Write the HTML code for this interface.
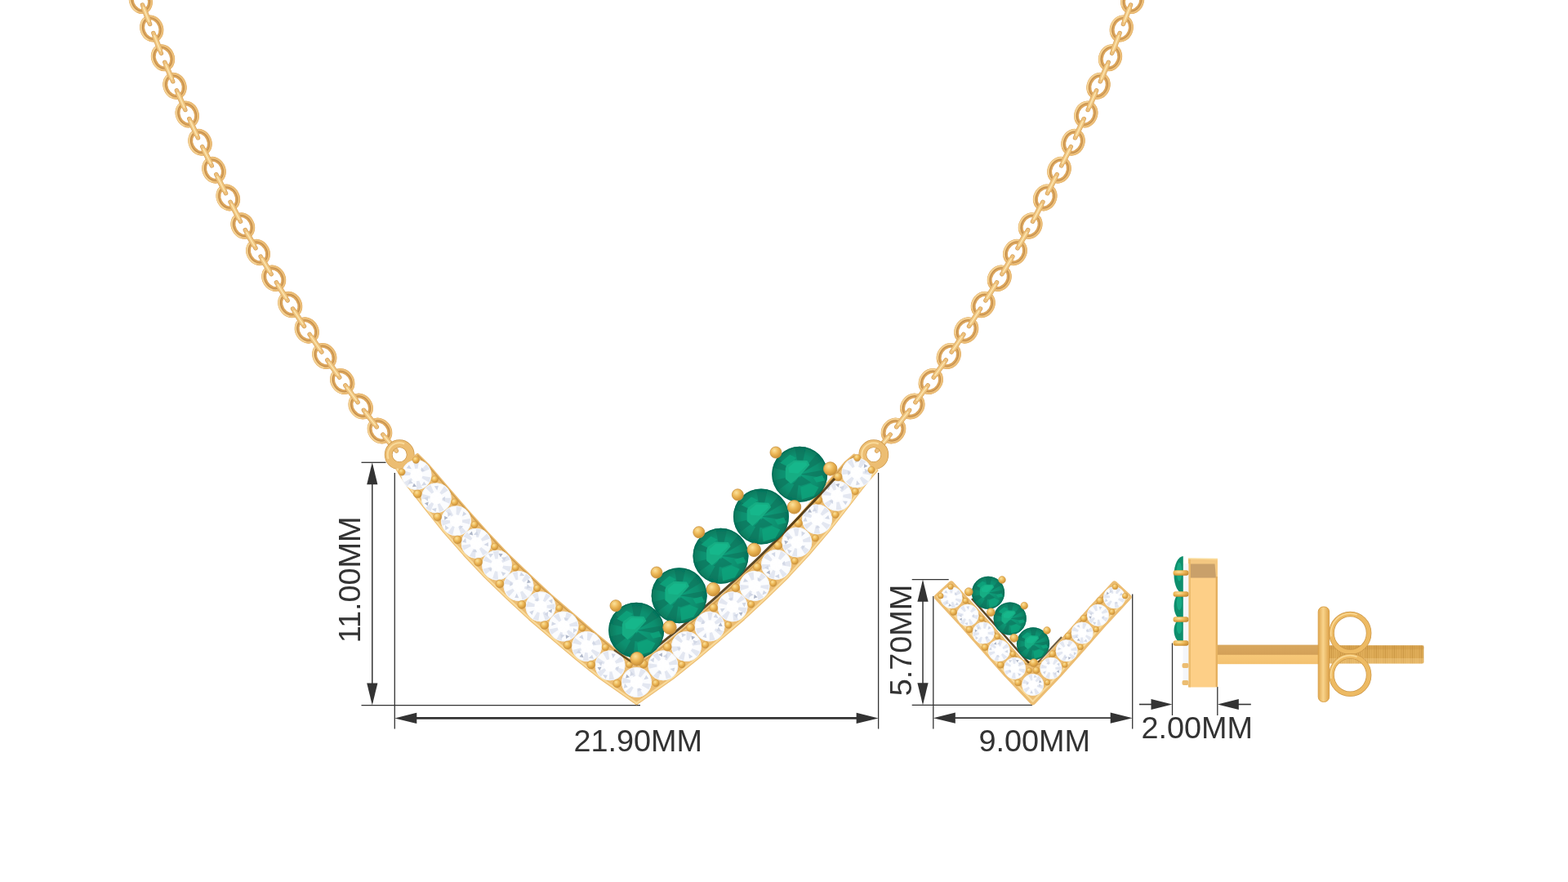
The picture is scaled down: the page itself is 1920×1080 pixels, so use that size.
<!DOCTYPE html>
<html lang="en">
<head>
<meta charset="utf-8">
<title>Emerald and Diamond V Necklace and Earring Set - Dimensions</title>
<style>
html,body{margin:0;padding:0;background:#fff;}
body{width:1920px;height:1080px;overflow:hidden;font-family:"Liberation Sans",Arial,sans-serif;}
svg{display:block;}
</style>
</head>
<body>
<svg width="1920" height="1080" viewBox="0 0 1920 1080">
<defs>
<radialGradient id="pg" cx="38%" cy="32%" r="75%">
 <stop offset="0" stop-color="#FBE29C"/><stop offset=".45" stop-color="#EDB858"/><stop offset="1" stop-color="#C4882F"/>
</radialGradient>
<radialGradient id="eg" cx="50%" cy="50%" r="50%">
 <stop offset="0" stop-color="#10A07B"/><stop offset=".7" stop-color="#0B8E6E"/><stop offset="1" stop-color="#07785C"/>
</radialGradient>
<linearGradient id="postg" x1="0" y1="0" x2="0" y2="1">
 <stop offset="0" stop-color="#D9A85E"/><stop offset=".5" stop-color="#D3A058"/><stop offset=".52" stop-color="#F7C878"/><stop offset="1" stop-color="#F3C170"/>
</linearGradient>
<linearGradient id="plateg" x1="0" y1="0" x2="1" y2="0">
 <stop offset="0" stop-color="#E0A84F"/><stop offset=".45" stop-color="#F9D48C"/><stop offset="1" stop-color="#DDA248"/>
</linearGradient>
<pattern id="thread" width="2.2" height="24" patternUnits="userSpaceOnUse">
 <rect width="2.2" height="24" fill="#E9B862"/><rect width="0.9" height="24" fill="#C58F3D"/>
</pattern>
<filter id="soft" filterUnits="userSpaceOnUse" x="0" y="0" width="1920" height="1080"><feGaussianBlur stdDeviation="0.45"/></filter>
<g id="dia">
 <circle r="18" fill="#FBFCFE"/>
 <g fill="#E3E7F1">
  <path d="M0 0 L-4 -17 L3 -16.5Z"/><path d="M0 0 L12 -13 L16 -7Z"/><path d="M0 0 L17 3 L15 9Z"/>
  <path d="M0 0 L7 16 L0 17.5Z"/><path d="M0 0 L-11 14 L-15 9Z"/><path d="M0 0 L-17.5 1 L-16.5 -6Z"/>
 </g>
 <g fill="#D2D8E6">
  <path d="M-9 -12 L-6 -7 L-12 -8Z"/><path d="M9 8 L12 12 L6 13Z"/><path d="M6 -9 L10 -5 L5 -4Z"/><path d="M-8 6 L-4 10 L-10 11Z"/>
 </g>
 <path d="M-3 10 L0 14 L-5 14.5Z" fill="#AEB6C8"/>
 <circle r="7.5" fill="#FFFFFF" opacity=".95"/>
 <circle r="17.6" fill="none" stroke="#EEF1F7" stroke-width=".8"/>
</g>
<g id="em">
 <circle r="34" fill="url(#eg)"/>
 <g fill="#06705A" opacity=".55">
  <path d="M0 0 L-6 -33 L8 -33Z"/><path d="M0 0 L22 -26 L29 -17Z"/><path d="M0 0 L33 -6 L33 5Z"/>
  <path d="M0 0 L-4 33 L-16 29Z"/><path d="M0 0 L-27 20 L-33 8Z"/><path d="M0 0 L-33 -8 L-27 -20Z"/>
  <path d="M2 2 L14 10 L2 14 L-9 12Z"/>
 </g>
 <g fill="#12A47C" opacity=".85">
  <path d="M1.1 15.9 L13 11.5 L23.3 15.9 L17.4 26.3 L2.6 30.7Z"/>
  <path d="M16.7 4.1 L27.8 1.1 L30.7 7.8 L20.4 10Z"/>
  <path d="M-24 -14 L-12 -24 L-4 -20 L-16 -10Z"/>
 </g>
 <path d="M-17.4 -7 L-16 -11 L-7 -17.4 L9.3 -16.7 L12.2 -11.5 L1.1 1.1 L-10.7 11.5 L-17.4 5.6Z" fill="#14AD83"/>
 <path d="M-14 -8 L-6 -15 L8 -14.5 L9 -11 L-2 -1 L-13 -2Z" fill="#1BBB8E" opacity=".75"/>
 <circle r="33.3" fill="none" stroke="#076A54" stroke-width="1.4" opacity=".75"/>
</g>
</defs>
<rect width="1920" height="1080" fill="#FFFFFF"/>

<g id="dims-necklace">
<line x1="442.5" y1="566.3" x2="472.5" y2="566.3" stroke="#333333" stroke-width="1.3"/>
<line x1="442.5" y1="863.6" x2="784" y2="863.6" stroke="#333333" stroke-width="1.3"/>
<line x1="455.8" y1="570" x2="455.8" y2="860" stroke="#333333" stroke-width="1.5"/>
<polygon points="455.8,566.3 462.4,593.3 449.2,593.3" fill="#333333"/>
<polygon points="455.8,863.6 449.2,836.6 462.4,836.6" fill="#333333"/>
<line x1="483.3" y1="579" x2="483.3" y2="892.5" stroke="#333333" stroke-width="1.3"/>
<line x1="1075.6" y1="579" x2="1075.6" y2="892.5" stroke="#333333" stroke-width="1.3"/>
<line x1="490" y1="879.4" x2="1069" y2="879.4" stroke="#333333" stroke-width="2.8"/>
<polygon points="483.3,879.4 510.3,872.8 510.3,886" fill="#333333"/>
<polygon points="1075.6,879.4 1048.6,886 1048.6,872.8" fill="#333333"/>
<text x="441.5" y="787.2" font-family="'Liberation Sans', Arial, sans-serif" font-size="37.8" fill="#333333" text-anchor="start" transform="rotate(-90 441.5 787.2)">11.00MM</text>
<text x="702.5" y="920.3" font-family="'Liberation Sans', Arial, sans-serif" font-size="37.8" fill="#333333" text-anchor="start">21.90MM</text>
</g>
<g id="jewel-necklace" filter="url(#soft)">
<g id="chain-left">
<g transform="translate(158.85 -34) rotate(68.7)"><ellipse rx="13.9" ry="11.3" fill="none" stroke="#DCA65D" stroke-width="5.9"/><ellipse rx="15.3" ry="12.7" fill="none" stroke="#ECBE78" stroke-width="2.6"/><ellipse rx="13.5" ry="10.9" fill="none" stroke="#B98547" stroke-width="1" opacity=".8"/><ellipse rx="15.6" ry="13" fill="none" stroke="#F8DDA4" stroke-width="1.1" stroke-dasharray="34 56" stroke-dashoffset="-10" opacity=".9"/></g>
<g transform="translate(172.3 0.5) rotate(68.7)"><ellipse rx="13.9" ry="11.3" fill="none" stroke="#DCA65D" stroke-width="5.9"/><ellipse rx="15.3" ry="12.7" fill="none" stroke="#ECBE78" stroke-width="2.6"/><ellipse rx="13.5" ry="10.9" fill="none" stroke="#B98547" stroke-width="1" opacity=".8"/><ellipse rx="15.6" ry="13" fill="none" stroke="#F8DDA4" stroke-width="1.1" stroke-dasharray="34 56" stroke-dashoffset="-10" opacity=".9"/></g>
<g transform="translate(185.75 35) rotate(68.83)"><ellipse rx="13.9" ry="11.3" fill="none" stroke="#DCA65D" stroke-width="5.9"/><ellipse rx="15.3" ry="12.7" fill="none" stroke="#ECBE78" stroke-width="2.6"/><ellipse rx="13.5" ry="10.9" fill="none" stroke="#B98547" stroke-width="1" opacity=".8"/><ellipse rx="15.6" ry="13" fill="none" stroke="#F8DDA4" stroke-width="1.1" stroke-dasharray="34 56" stroke-dashoffset="-10" opacity=".9"/></g>
<g transform="translate(199.5 70.75) rotate(68.11)"><ellipse rx="13.9" ry="11.3" fill="none" stroke="#DCA65D" stroke-width="5.9"/><ellipse rx="15.3" ry="12.7" fill="none" stroke="#ECBE78" stroke-width="2.6"/><ellipse rx="13.5" ry="10.9" fill="none" stroke="#B98547" stroke-width="1" opacity=".8"/><ellipse rx="15.6" ry="13" fill="none" stroke="#F8DDA4" stroke-width="1.1" stroke-dasharray="34 56" stroke-dashoffset="-10" opacity=".9"/></g>
<g transform="translate(214 105.3) rotate(66.75)"><ellipse rx="13.9" ry="11.3" fill="none" stroke="#DCA65D" stroke-width="5.9"/><ellipse rx="15.3" ry="12.7" fill="none" stroke="#ECBE78" stroke-width="2.6"/><ellipse rx="13.5" ry="10.9" fill="none" stroke="#B98547" stroke-width="1" opacity=".8"/><ellipse rx="15.6" ry="13" fill="none" stroke="#F8DDA4" stroke-width="1.1" stroke-dasharray="34 56" stroke-dashoffset="-10" opacity=".9"/></g>
<g transform="translate(229.25 140) rotate(65.79)"><ellipse rx="13.9" ry="11.3" fill="none" stroke="#DCA65D" stroke-width="5.9"/><ellipse rx="15.3" ry="12.7" fill="none" stroke="#ECBE78" stroke-width="2.6"/><ellipse rx="13.5" ry="10.9" fill="none" stroke="#B98547" stroke-width="1" opacity=".8"/><ellipse rx="15.6" ry="13" fill="none" stroke="#F8DDA4" stroke-width="1.1" stroke-dasharray="34 56" stroke-dashoffset="-10" opacity=".9"/></g>
<g transform="translate(245 174.25) rotate(64.37)"><ellipse rx="13.9" ry="11.3" fill="none" stroke="#DCA65D" stroke-width="5.9"/><ellipse rx="15.3" ry="12.7" fill="none" stroke="#ECBE78" stroke-width="2.6"/><ellipse rx="13.5" ry="10.9" fill="none" stroke="#B98547" stroke-width="1" opacity=".8"/><ellipse rx="15.6" ry="13" fill="none" stroke="#F8DDA4" stroke-width="1.1" stroke-dasharray="34 56" stroke-dashoffset="-10" opacity=".9"/></g>
<g transform="translate(262 208.25) rotate(63.18)"><ellipse rx="13.9" ry="11.3" fill="none" stroke="#DCA65D" stroke-width="5.9"/><ellipse rx="15.3" ry="12.7" fill="none" stroke="#ECBE78" stroke-width="2.6"/><ellipse rx="13.5" ry="10.9" fill="none" stroke="#B98547" stroke-width="1" opacity=".8"/><ellipse rx="15.6" ry="13" fill="none" stroke="#F8DDA4" stroke-width="1.1" stroke-dasharray="34 56" stroke-dashoffset="-10" opacity=".9"/></g>
<g transform="translate(279.25 242) rotate(62.65)"><ellipse rx="13.9" ry="11.3" fill="none" stroke="#DCA65D" stroke-width="5.9"/><ellipse rx="15.3" ry="12.7" fill="none" stroke="#ECBE78" stroke-width="2.6"/><ellipse rx="13.5" ry="10.9" fill="none" stroke="#B98547" stroke-width="1" opacity=".8"/><ellipse rx="15.6" ry="13" fill="none" stroke="#F8DDA4" stroke-width="1.1" stroke-dasharray="34 56" stroke-dashoffset="-10" opacity=".9"/></g>
<g transform="translate(297.3 276.5) rotate(61.25)"><ellipse rx="13.9" ry="11.3" fill="none" stroke="#DCA65D" stroke-width="5.9"/><ellipse rx="15.3" ry="12.7" fill="none" stroke="#ECBE78" stroke-width="2.6"/><ellipse rx="13.5" ry="10.9" fill="none" stroke="#B98547" stroke-width="1" opacity=".8"/><ellipse rx="15.6" ry="13" fill="none" stroke="#F8DDA4" stroke-width="1.1" stroke-dasharray="34 56" stroke-dashoffset="-10" opacity=".9"/></g>
<g transform="translate(316 309) rotate(59.43)"><ellipse rx="13.9" ry="11.3" fill="none" stroke="#DCA65D" stroke-width="5.9"/><ellipse rx="15.3" ry="12.7" fill="none" stroke="#ECBE78" stroke-width="2.6"/><ellipse rx="13.5" ry="10.9" fill="none" stroke="#B98547" stroke-width="1" opacity=".8"/><ellipse rx="15.6" ry="13" fill="none" stroke="#F8DDA4" stroke-width="1.1" stroke-dasharray="34 56" stroke-dashoffset="-10" opacity=".9"/></g>
<g transform="translate(335.25 340.75) rotate(58.48)"><ellipse rx="13.9" ry="11.3" fill="none" stroke="#DCA65D" stroke-width="5.9"/><ellipse rx="15.3" ry="12.7" fill="none" stroke="#ECBE78" stroke-width="2.6"/><ellipse rx="13.5" ry="10.9" fill="none" stroke="#B98547" stroke-width="1" opacity=".8"/><ellipse rx="15.6" ry="13" fill="none" stroke="#F8DDA4" stroke-width="1.1" stroke-dasharray="34 56" stroke-dashoffset="-10" opacity=".9"/></g>
<g transform="translate(355.25 373) rotate(57.57)"><ellipse rx="13.9" ry="11.3" fill="none" stroke="#DCA65D" stroke-width="5.9"/><ellipse rx="15.3" ry="12.7" fill="none" stroke="#ECBE78" stroke-width="2.6"/><ellipse rx="13.5" ry="10.9" fill="none" stroke="#B98547" stroke-width="1" opacity=".8"/><ellipse rx="15.6" ry="13" fill="none" stroke="#F8DDA4" stroke-width="1.1" stroke-dasharray="34 56" stroke-dashoffset="-10" opacity=".9"/></g>
<g transform="translate(375.75 404.5) rotate(56.31)"><ellipse rx="13.9" ry="11.3" fill="none" stroke="#DCA65D" stroke-width="5.9"/><ellipse rx="15.3" ry="12.7" fill="none" stroke="#ECBE78" stroke-width="2.6"/><ellipse rx="13.5" ry="10.9" fill="none" stroke="#B98547" stroke-width="1" opacity=".8"/><ellipse rx="15.6" ry="13" fill="none" stroke="#F8DDA4" stroke-width="1.1" stroke-dasharray="34 56" stroke-dashoffset="-10" opacity=".9"/></g>
<g transform="translate(397.25 436) rotate(55.16)"><ellipse rx="13.9" ry="11.3" fill="none" stroke="#DCA65D" stroke-width="5.9"/><ellipse rx="15.3" ry="12.7" fill="none" stroke="#ECBE78" stroke-width="2.6"/><ellipse rx="13.5" ry="10.9" fill="none" stroke="#B98547" stroke-width="1" opacity=".8"/><ellipse rx="15.6" ry="13" fill="none" stroke="#F8DDA4" stroke-width="1.1" stroke-dasharray="34 56" stroke-dashoffset="-10" opacity=".9"/></g>
<g transform="translate(419.25 467) rotate(54.14)"><ellipse rx="13.9" ry="11.3" fill="none" stroke="#DCA65D" stroke-width="5.9"/><ellipse rx="15.3" ry="12.7" fill="none" stroke="#ECBE78" stroke-width="2.6"/><ellipse rx="13.5" ry="10.9" fill="none" stroke="#B98547" stroke-width="1" opacity=".8"/><ellipse rx="15.6" ry="13" fill="none" stroke="#F8DDA4" stroke-width="1.1" stroke-dasharray="34 56" stroke-dashoffset="-10" opacity=".9"/></g>
<g transform="translate(441.7 497.5) rotate(52.9)"><ellipse rx="13.9" ry="11.3" fill="none" stroke="#DCA65D" stroke-width="5.9"/><ellipse rx="15.3" ry="12.7" fill="none" stroke="#ECBE78" stroke-width="2.6"/><ellipse rx="13.5" ry="10.9" fill="none" stroke="#B98547" stroke-width="1" opacity=".8"/><ellipse rx="15.6" ry="13" fill="none" stroke="#F8DDA4" stroke-width="1.1" stroke-dasharray="34 56" stroke-dashoffset="-10" opacity=".9"/></g>
<g transform="translate(465 527.5) rotate(51.26)"><ellipse rx="13.9" ry="11.3" fill="none" stroke="#DCA65D" stroke-width="5.9"/><ellipse rx="15.3" ry="12.7" fill="none" stroke="#ECBE78" stroke-width="2.6"/><ellipse rx="13.5" ry="10.9" fill="none" stroke="#B98547" stroke-width="1" opacity=".8"/><ellipse rx="15.6" ry="13" fill="none" stroke="#F8DDA4" stroke-width="1.1" stroke-dasharray="34 56" stroke-dashoffset="-10" opacity=".9"/></g>
<line x1="161.03" y1="-28.41" x2="170.12" y2="-5.09" stroke="#D5A05A" stroke-width="5.4" stroke-linecap="round"/>
<line x1="162.89" y1="-23.65" x2="168.27" y2="-9.85" stroke="#DBA860" stroke-width="6.6" stroke-linecap="round"/>
<line x1="161.03" y1="-28.41" x2="170.12" y2="-5.09" stroke="#EEC17C" stroke-width="4" stroke-linecap="round"/>
<line x1="162.89" y1="-23.65" x2="168.27" y2="-9.85" stroke="#F0C682" stroke-width="5" stroke-linecap="round"/>
<line x1="162.12" y1="-25.61" x2="169.03" y2="-7.89" stroke="#FCE5AE" stroke-width="1.5" stroke-linecap="round"/>
<line x1="174.48" y1="6.09" x2="183.57" y2="29.41" stroke="#D5A05A" stroke-width="5.4" stroke-linecap="round"/>
<line x1="176.34" y1="10.85" x2="181.72" y2="24.65" stroke="#DBA860" stroke-width="6.6" stroke-linecap="round"/>
<line x1="174.48" y1="6.09" x2="183.57" y2="29.41" stroke="#EEC17C" stroke-width="4" stroke-linecap="round"/>
<line x1="176.34" y1="10.85" x2="181.72" y2="24.65" stroke="#F0C682" stroke-width="5" stroke-linecap="round"/>
<line x1="175.57" y1="8.89" x2="182.48" y2="26.61" stroke="#FCE5AE" stroke-width="1.5" stroke-linecap="round"/>
<line x1="187.9" y1="40.6" x2="197.35" y2="65.15" stroke="#D5A05A" stroke-width="5.4" stroke-linecap="round"/>
<line x1="189.88" y1="45.73" x2="195.38" y2="60.02" stroke="#DBA860" stroke-width="6.6" stroke-linecap="round"/>
<line x1="187.9" y1="40.6" x2="197.35" y2="65.15" stroke="#EEC17C" stroke-width="4" stroke-linecap="round"/>
<line x1="189.88" y1="45.73" x2="195.38" y2="60.02" stroke="#F0C682" stroke-width="5" stroke-linecap="round"/>
<line x1="188.98" y1="43.4" x2="196.27" y2="62.35" stroke="#FCE5AE" stroke-width="1.5" stroke-linecap="round"/>
<line x1="201.82" y1="76.28" x2="211.68" y2="99.77" stroke="#D5A05A" stroke-width="5.4" stroke-linecap="round"/>
<line x1="203.85" y1="81.11" x2="209.65" y2="94.94" stroke="#DBA860" stroke-width="6.6" stroke-linecap="round"/>
<line x1="201.82" y1="76.28" x2="211.68" y2="99.77" stroke="#EEC17C" stroke-width="4" stroke-linecap="round"/>
<line x1="203.85" y1="81.11" x2="209.65" y2="94.94" stroke="#F0C682" stroke-width="5" stroke-linecap="round"/>
<line x1="202.98" y1="79.05" x2="210.52" y2="97" stroke="#FCE5AE" stroke-width="1.5" stroke-linecap="round"/>
<line x1="216.41" y1="110.79" x2="226.84" y2="134.51" stroke="#D5A05A" stroke-width="5.4" stroke-linecap="round"/>
<line x1="218.57" y1="115.71" x2="224.68" y2="129.59" stroke="#DBA860" stroke-width="6.6" stroke-linecap="round"/>
<line x1="216.41" y1="110.79" x2="226.84" y2="134.51" stroke="#EEC17C" stroke-width="4" stroke-linecap="round"/>
<line x1="218.57" y1="115.71" x2="224.68" y2="129.59" stroke="#F0C682" stroke-width="5" stroke-linecap="round"/>
<line x1="217.62" y1="113.54" x2="225.63" y2="131.76" stroke="#FCE5AE" stroke-width="1.5" stroke-linecap="round"/>
<line x1="231.76" y1="145.45" x2="242.49" y2="168.8" stroke="#D5A05A" stroke-width="5.4" stroke-linecap="round"/>
<line x1="233.97" y1="150.28" x2="240.28" y2="163.97" stroke="#DBA860" stroke-width="6.6" stroke-linecap="round"/>
<line x1="231.76" y1="145.45" x2="242.49" y2="168.8" stroke="#EEC17C" stroke-width="4" stroke-linecap="round"/>
<line x1="233.97" y1="150.28" x2="240.28" y2="163.97" stroke="#F0C682" stroke-width="5" stroke-linecap="round"/>
<line x1="233.01" y1="148.18" x2="241.24" y2="166.07" stroke="#FCE5AE" stroke-width="1.5" stroke-linecap="round"/>
<line x1="247.68" y1="179.62" x2="259.32" y2="202.88" stroke="#D5A05A" stroke-width="5.4" stroke-linecap="round"/>
<line x1="250.1" y1="184.45" x2="256.9" y2="198.05" stroke="#DBA860" stroke-width="6.6" stroke-linecap="round"/>
<line x1="247.68" y1="179.62" x2="259.32" y2="202.88" stroke="#EEC17C" stroke-width="4" stroke-linecap="round"/>
<line x1="250.1" y1="184.45" x2="256.9" y2="198.05" stroke="#F0C682" stroke-width="5" stroke-linecap="round"/>
<line x1="249.02" y1="182.3" x2="257.98" y2="200.2" stroke="#FCE5AE" stroke-width="1.5" stroke-linecap="round"/>
<line x1="264.73" y1="213.59" x2="276.52" y2="236.66" stroke="#D5A05A" stroke-width="5.4" stroke-linecap="round"/>
<line x1="267.18" y1="218.38" x2="274.07" y2="231.88" stroke="#DBA860" stroke-width="6.6" stroke-linecap="round"/>
<line x1="264.73" y1="213.59" x2="276.52" y2="236.66" stroke="#EEC17C" stroke-width="4" stroke-linecap="round"/>
<line x1="267.18" y1="218.38" x2="274.07" y2="231.88" stroke="#F0C682" stroke-width="5" stroke-linecap="round"/>
<line x1="266.1" y1="216.26" x2="275.15" y2="233.99" stroke="#FCE5AE" stroke-width="1.5" stroke-linecap="round"/>
<line x1="282.03" y1="247.32" x2="294.52" y2="271.18" stroke="#D5A05A" stroke-width="5.4" stroke-linecap="round"/>
<line x1="284.67" y1="252.35" x2="291.88" y2="266.15" stroke="#DBA860" stroke-width="6.6" stroke-linecap="round"/>
<line x1="282.03" y1="247.32" x2="294.52" y2="271.18" stroke="#EEC17C" stroke-width="4" stroke-linecap="round"/>
<line x1="284.67" y1="252.35" x2="291.88" y2="266.15" stroke="#F0C682" stroke-width="5" stroke-linecap="round"/>
<line x1="283.42" y1="249.97" x2="293.13" y2="268.53" stroke="#FCE5AE" stroke-width="1.5" stroke-linecap="round"/>
<line x1="300.29" y1="281.7" x2="313.01" y2="303.8" stroke="#D5A05A" stroke-width="5.4" stroke-linecap="round"/>
<line x1="302.91" y1="286.25" x2="310.39" y2="299.25" stroke="#DBA860" stroke-width="6.6" stroke-linecap="round"/>
<line x1="300.29" y1="281.7" x2="313.01" y2="303.8" stroke="#EEC17C" stroke-width="4" stroke-linecap="round"/>
<line x1="302.91" y1="286.25" x2="310.39" y2="299.25" stroke="#F0C682" stroke-width="5" stroke-linecap="round"/>
<line x1="301.79" y1="284.3" x2="311.51" y2="301.2" stroke="#FCE5AE" stroke-width="1.5" stroke-linecap="round"/>
<line x1="319.11" y1="314.13" x2="332.14" y2="335.62" stroke="#D5A05A" stroke-width="5.4" stroke-linecap="round"/>
<line x1="321.77" y1="318.52" x2="329.48" y2="331.23" stroke="#DBA860" stroke-width="6.6" stroke-linecap="round"/>
<line x1="319.11" y1="314.13" x2="332.14" y2="335.62" stroke="#EEC17C" stroke-width="4" stroke-linecap="round"/>
<line x1="321.77" y1="318.52" x2="329.48" y2="331.23" stroke="#F0C682" stroke-width="5" stroke-linecap="round"/>
<line x1="320.67" y1="316.7" x2="330.58" y2="333.05" stroke="#FCE5AE" stroke-width="1.5" stroke-linecap="round"/>
<line x1="338.41" y1="345.85" x2="352.09" y2="367.9" stroke="#D5A05A" stroke-width="5.4" stroke-linecap="round"/>
<line x1="341.25" y1="350.43" x2="349.25" y2="363.32" stroke="#DBA860" stroke-width="6.6" stroke-linecap="round"/>
<line x1="338.41" y1="345.85" x2="352.09" y2="367.9" stroke="#EEC17C" stroke-width="4" stroke-linecap="round"/>
<line x1="341.25" y1="350.43" x2="349.25" y2="363.32" stroke="#F0C682" stroke-width="5" stroke-linecap="round"/>
<line x1="339.99" y1="348.4" x2="350.51" y2="365.35" stroke="#FCE5AE" stroke-width="1.5" stroke-linecap="round"/>
<line x1="358.52" y1="378.03" x2="372.48" y2="399.47" stroke="#D5A05A" stroke-width="5.4" stroke-linecap="round"/>
<line x1="361.4" y1="382.45" x2="369.6" y2="395.05" stroke="#DBA860" stroke-width="6.6" stroke-linecap="round"/>
<line x1="358.52" y1="378.03" x2="372.48" y2="399.47" stroke="#EEC17C" stroke-width="4" stroke-linecap="round"/>
<line x1="361.4" y1="382.45" x2="369.6" y2="395.05" stroke="#F0C682" stroke-width="5" stroke-linecap="round"/>
<line x1="360.16" y1="380.54" x2="370.84" y2="396.96" stroke="#FCE5AE" stroke-width="1.5" stroke-linecap="round"/>
<line x1="379.13" y1="409.46" x2="393.87" y2="431.04" stroke="#D5A05A" stroke-width="5.4" stroke-linecap="round"/>
<line x1="382.2" y1="413.95" x2="390.8" y2="426.55" stroke="#DBA860" stroke-width="6.6" stroke-linecap="round"/>
<line x1="379.13" y1="409.46" x2="393.87" y2="431.04" stroke="#EEC17C" stroke-width="4" stroke-linecap="round"/>
<line x1="382.2" y1="413.95" x2="390.8" y2="426.55" stroke="#F0C682" stroke-width="5" stroke-linecap="round"/>
<line x1="380.82" y1="411.93" x2="392.18" y2="428.57" stroke="#FCE5AE" stroke-width="1.5" stroke-linecap="round"/>
<line x1="400.72" y1="440.89" x2="415.78" y2="462.11" stroke="#D5A05A" stroke-width="5.4" stroke-linecap="round"/>
<line x1="403.85" y1="445.3" x2="412.65" y2="457.7" stroke="#DBA860" stroke-width="6.6" stroke-linecap="round"/>
<line x1="400.72" y1="440.89" x2="415.78" y2="462.11" stroke="#EEC17C" stroke-width="4" stroke-linecap="round"/>
<line x1="403.85" y1="445.3" x2="412.65" y2="457.7" stroke="#F0C682" stroke-width="5" stroke-linecap="round"/>
<line x1="402.46" y1="443.34" x2="414.04" y2="459.66" stroke="#FCE5AE" stroke-width="1.5" stroke-linecap="round"/>
<line x1="422.81" y1="471.83" x2="438.14" y2="492.67" stroke="#D5A05A" stroke-width="5.4" stroke-linecap="round"/>
<line x1="425.99" y1="476.15" x2="434.96" y2="488.35" stroke="#DBA860" stroke-width="6.6" stroke-linecap="round"/>
<line x1="422.81" y1="471.83" x2="438.14" y2="492.67" stroke="#EEC17C" stroke-width="4" stroke-linecap="round"/>
<line x1="425.99" y1="476.15" x2="434.96" y2="488.35" stroke="#F0C682" stroke-width="5" stroke-linecap="round"/>
<line x1="424.59" y1="474.25" x2="436.36" y2="490.25" stroke="#FCE5AE" stroke-width="1.5" stroke-linecap="round"/>
<line x1="445.38" y1="502.24" x2="461.32" y2="522.76" stroke="#D5A05A" stroke-width="5.4" stroke-linecap="round"/>
<line x1="448.69" y1="506.5" x2="458.01" y2="518.5" stroke="#DBA860" stroke-width="6.6" stroke-linecap="round"/>
<line x1="445.38" y1="502.24" x2="461.32" y2="522.76" stroke="#EEC17C" stroke-width="4" stroke-linecap="round"/>
<line x1="448.69" y1="506.5" x2="458.01" y2="518.5" stroke="#F0C682" stroke-width="5" stroke-linecap="round"/>
<line x1="447.22" y1="504.61" x2="459.48" y2="520.39" stroke="#FCE5AE" stroke-width="1.5" stroke-linecap="round"/>
<line x1="468.83" y1="532.12" x2="485.37" y2="552.08" stroke="#D5A05A" stroke-width="5.4" stroke-linecap="round"/>
<line x1="472.26" y1="536.26" x2="481.94" y2="547.94" stroke="#DBA860" stroke-width="6.6" stroke-linecap="round"/>
<line x1="468.83" y1="532.12" x2="485.37" y2="552.08" stroke="#EEC17C" stroke-width="4" stroke-linecap="round"/>
<line x1="472.26" y1="536.26" x2="481.94" y2="547.94" stroke="#F0C682" stroke-width="5" stroke-linecap="round"/>
<line x1="470.74" y1="534.43" x2="483.46" y2="549.77" stroke="#FCE5AE" stroke-width="1.5" stroke-linecap="round"/>
</g>
<g id="chain-right">
<g transform="translate(1400.15 -34) rotate(111.3)"><ellipse rx="13.9" ry="11.3" fill="none" stroke="#DCA65D" stroke-width="5.9"/><ellipse rx="15.3" ry="12.7" fill="none" stroke="#ECBE78" stroke-width="2.6"/><ellipse rx="13.5" ry="10.9" fill="none" stroke="#B98547" stroke-width="1" opacity=".8"/><ellipse rx="15.6" ry="13" fill="none" stroke="#F8DDA4" stroke-width="1.1" stroke-dasharray="34 56" stroke-dashoffset="-10" opacity=".9"/></g>
<g transform="translate(1386.7 0.5) rotate(111.3)"><ellipse rx="13.9" ry="11.3" fill="none" stroke="#DCA65D" stroke-width="5.9"/><ellipse rx="15.3" ry="12.7" fill="none" stroke="#ECBE78" stroke-width="2.6"/><ellipse rx="13.5" ry="10.9" fill="none" stroke="#B98547" stroke-width="1" opacity=".8"/><ellipse rx="15.6" ry="13" fill="none" stroke="#F8DDA4" stroke-width="1.1" stroke-dasharray="34 56" stroke-dashoffset="-10" opacity=".9"/></g>
<g transform="translate(1373.25 35) rotate(111.17)"><ellipse rx="13.9" ry="11.3" fill="none" stroke="#DCA65D" stroke-width="5.9"/><ellipse rx="15.3" ry="12.7" fill="none" stroke="#ECBE78" stroke-width="2.6"/><ellipse rx="13.5" ry="10.9" fill="none" stroke="#B98547" stroke-width="1" opacity=".8"/><ellipse rx="15.6" ry="13" fill="none" stroke="#F8DDA4" stroke-width="1.1" stroke-dasharray="34 56" stroke-dashoffset="-10" opacity=".9"/></g>
<g transform="translate(1359.5 70.75) rotate(111.89)"><ellipse rx="13.9" ry="11.3" fill="none" stroke="#DCA65D" stroke-width="5.9"/><ellipse rx="15.3" ry="12.7" fill="none" stroke="#ECBE78" stroke-width="2.6"/><ellipse rx="13.5" ry="10.9" fill="none" stroke="#B98547" stroke-width="1" opacity=".8"/><ellipse rx="15.6" ry="13" fill="none" stroke="#F8DDA4" stroke-width="1.1" stroke-dasharray="34 56" stroke-dashoffset="-10" opacity=".9"/></g>
<g transform="translate(1345 105.3) rotate(113.25)"><ellipse rx="13.9" ry="11.3" fill="none" stroke="#DCA65D" stroke-width="5.9"/><ellipse rx="15.3" ry="12.7" fill="none" stroke="#ECBE78" stroke-width="2.6"/><ellipse rx="13.5" ry="10.9" fill="none" stroke="#B98547" stroke-width="1" opacity=".8"/><ellipse rx="15.6" ry="13" fill="none" stroke="#F8DDA4" stroke-width="1.1" stroke-dasharray="34 56" stroke-dashoffset="-10" opacity=".9"/></g>
<g transform="translate(1329.75 140) rotate(114.21)"><ellipse rx="13.9" ry="11.3" fill="none" stroke="#DCA65D" stroke-width="5.9"/><ellipse rx="15.3" ry="12.7" fill="none" stroke="#ECBE78" stroke-width="2.6"/><ellipse rx="13.5" ry="10.9" fill="none" stroke="#B98547" stroke-width="1" opacity=".8"/><ellipse rx="15.6" ry="13" fill="none" stroke="#F8DDA4" stroke-width="1.1" stroke-dasharray="34 56" stroke-dashoffset="-10" opacity=".9"/></g>
<g transform="translate(1314 174.25) rotate(115.63)"><ellipse rx="13.9" ry="11.3" fill="none" stroke="#DCA65D" stroke-width="5.9"/><ellipse rx="15.3" ry="12.7" fill="none" stroke="#ECBE78" stroke-width="2.6"/><ellipse rx="13.5" ry="10.9" fill="none" stroke="#B98547" stroke-width="1" opacity=".8"/><ellipse rx="15.6" ry="13" fill="none" stroke="#F8DDA4" stroke-width="1.1" stroke-dasharray="34 56" stroke-dashoffset="-10" opacity=".9"/></g>
<g transform="translate(1297 208.25) rotate(116.82)"><ellipse rx="13.9" ry="11.3" fill="none" stroke="#DCA65D" stroke-width="5.9"/><ellipse rx="15.3" ry="12.7" fill="none" stroke="#ECBE78" stroke-width="2.6"/><ellipse rx="13.5" ry="10.9" fill="none" stroke="#B98547" stroke-width="1" opacity=".8"/><ellipse rx="15.6" ry="13" fill="none" stroke="#F8DDA4" stroke-width="1.1" stroke-dasharray="34 56" stroke-dashoffset="-10" opacity=".9"/></g>
<g transform="translate(1279.75 242) rotate(117.35)"><ellipse rx="13.9" ry="11.3" fill="none" stroke="#DCA65D" stroke-width="5.9"/><ellipse rx="15.3" ry="12.7" fill="none" stroke="#ECBE78" stroke-width="2.6"/><ellipse rx="13.5" ry="10.9" fill="none" stroke="#B98547" stroke-width="1" opacity=".8"/><ellipse rx="15.6" ry="13" fill="none" stroke="#F8DDA4" stroke-width="1.1" stroke-dasharray="34 56" stroke-dashoffset="-10" opacity=".9"/></g>
<g transform="translate(1261.7 276.5) rotate(118.75)"><ellipse rx="13.9" ry="11.3" fill="none" stroke="#DCA65D" stroke-width="5.9"/><ellipse rx="15.3" ry="12.7" fill="none" stroke="#ECBE78" stroke-width="2.6"/><ellipse rx="13.5" ry="10.9" fill="none" stroke="#B98547" stroke-width="1" opacity=".8"/><ellipse rx="15.6" ry="13" fill="none" stroke="#F8DDA4" stroke-width="1.1" stroke-dasharray="34 56" stroke-dashoffset="-10" opacity=".9"/></g>
<g transform="translate(1243 309) rotate(120.57)"><ellipse rx="13.9" ry="11.3" fill="none" stroke="#DCA65D" stroke-width="5.9"/><ellipse rx="15.3" ry="12.7" fill="none" stroke="#ECBE78" stroke-width="2.6"/><ellipse rx="13.5" ry="10.9" fill="none" stroke="#B98547" stroke-width="1" opacity=".8"/><ellipse rx="15.6" ry="13" fill="none" stroke="#F8DDA4" stroke-width="1.1" stroke-dasharray="34 56" stroke-dashoffset="-10" opacity=".9"/></g>
<g transform="translate(1223.75 340.75) rotate(121.52)"><ellipse rx="13.9" ry="11.3" fill="none" stroke="#DCA65D" stroke-width="5.9"/><ellipse rx="15.3" ry="12.7" fill="none" stroke="#ECBE78" stroke-width="2.6"/><ellipse rx="13.5" ry="10.9" fill="none" stroke="#B98547" stroke-width="1" opacity=".8"/><ellipse rx="15.6" ry="13" fill="none" stroke="#F8DDA4" stroke-width="1.1" stroke-dasharray="34 56" stroke-dashoffset="-10" opacity=".9"/></g>
<g transform="translate(1203.75 373) rotate(122.43)"><ellipse rx="13.9" ry="11.3" fill="none" stroke="#DCA65D" stroke-width="5.9"/><ellipse rx="15.3" ry="12.7" fill="none" stroke="#ECBE78" stroke-width="2.6"/><ellipse rx="13.5" ry="10.9" fill="none" stroke="#B98547" stroke-width="1" opacity=".8"/><ellipse rx="15.6" ry="13" fill="none" stroke="#F8DDA4" stroke-width="1.1" stroke-dasharray="34 56" stroke-dashoffset="-10" opacity=".9"/></g>
<g transform="translate(1183.25 404.5) rotate(123.69)"><ellipse rx="13.9" ry="11.3" fill="none" stroke="#DCA65D" stroke-width="5.9"/><ellipse rx="15.3" ry="12.7" fill="none" stroke="#ECBE78" stroke-width="2.6"/><ellipse rx="13.5" ry="10.9" fill="none" stroke="#B98547" stroke-width="1" opacity=".8"/><ellipse rx="15.6" ry="13" fill="none" stroke="#F8DDA4" stroke-width="1.1" stroke-dasharray="34 56" stroke-dashoffset="-10" opacity=".9"/></g>
<g transform="translate(1161.75 436) rotate(124.84)"><ellipse rx="13.9" ry="11.3" fill="none" stroke="#DCA65D" stroke-width="5.9"/><ellipse rx="15.3" ry="12.7" fill="none" stroke="#ECBE78" stroke-width="2.6"/><ellipse rx="13.5" ry="10.9" fill="none" stroke="#B98547" stroke-width="1" opacity=".8"/><ellipse rx="15.6" ry="13" fill="none" stroke="#F8DDA4" stroke-width="1.1" stroke-dasharray="34 56" stroke-dashoffset="-10" opacity=".9"/></g>
<g transform="translate(1139.75 467) rotate(125.86)"><ellipse rx="13.9" ry="11.3" fill="none" stroke="#DCA65D" stroke-width="5.9"/><ellipse rx="15.3" ry="12.7" fill="none" stroke="#ECBE78" stroke-width="2.6"/><ellipse rx="13.5" ry="10.9" fill="none" stroke="#B98547" stroke-width="1" opacity=".8"/><ellipse rx="15.6" ry="13" fill="none" stroke="#F8DDA4" stroke-width="1.1" stroke-dasharray="34 56" stroke-dashoffset="-10" opacity=".9"/></g>
<g transform="translate(1117.3 497.5) rotate(127.1)"><ellipse rx="13.9" ry="11.3" fill="none" stroke="#DCA65D" stroke-width="5.9"/><ellipse rx="15.3" ry="12.7" fill="none" stroke="#ECBE78" stroke-width="2.6"/><ellipse rx="13.5" ry="10.9" fill="none" stroke="#B98547" stroke-width="1" opacity=".8"/><ellipse rx="15.6" ry="13" fill="none" stroke="#F8DDA4" stroke-width="1.1" stroke-dasharray="34 56" stroke-dashoffset="-10" opacity=".9"/></g>
<g transform="translate(1094 527.5) rotate(128.74)"><ellipse rx="13.9" ry="11.3" fill="none" stroke="#DCA65D" stroke-width="5.9"/><ellipse rx="15.3" ry="12.7" fill="none" stroke="#ECBE78" stroke-width="2.6"/><ellipse rx="13.5" ry="10.9" fill="none" stroke="#B98547" stroke-width="1" opacity=".8"/><ellipse rx="15.6" ry="13" fill="none" stroke="#F8DDA4" stroke-width="1.1" stroke-dasharray="34 56" stroke-dashoffset="-10" opacity=".9"/></g>
<line x1="1397.97" y1="-28.41" x2="1388.88" y2="-5.09" stroke="#D5A05A" stroke-width="5.4" stroke-linecap="round"/>
<line x1="1396.12" y1="-23.65" x2="1390.74" y2="-9.85" stroke="#DBA860" stroke-width="6.6" stroke-linecap="round"/>
<line x1="1397.97" y1="-28.41" x2="1388.88" y2="-5.09" stroke="#EEC17C" stroke-width="4" stroke-linecap="round"/>
<line x1="1396.12" y1="-23.65" x2="1390.74" y2="-9.85" stroke="#F0C682" stroke-width="5" stroke-linecap="round"/>
<line x1="1396.88" y1="-25.61" x2="1389.97" y2="-7.89" stroke="#FCE5AE" stroke-width="1.5" stroke-linecap="round"/>
<line x1="1384.52" y1="6.09" x2="1375.43" y2="29.41" stroke="#D5A05A" stroke-width="5.4" stroke-linecap="round"/>
<line x1="1382.66" y1="10.85" x2="1377.29" y2="24.65" stroke="#DBA860" stroke-width="6.6" stroke-linecap="round"/>
<line x1="1384.52" y1="6.09" x2="1375.43" y2="29.41" stroke="#EEC17C" stroke-width="4" stroke-linecap="round"/>
<line x1="1382.66" y1="10.85" x2="1377.29" y2="24.65" stroke="#F0C682" stroke-width="5" stroke-linecap="round"/>
<line x1="1383.43" y1="8.89" x2="1376.52" y2="26.61" stroke="#FCE5AE" stroke-width="1.5" stroke-linecap="round"/>
<line x1="1371.1" y1="40.6" x2="1361.65" y2="65.15" stroke="#D5A05A" stroke-width="5.4" stroke-linecap="round"/>
<line x1="1369.12" y1="45.73" x2="1363.62" y2="60.02" stroke="#DBA860" stroke-width="6.6" stroke-linecap="round"/>
<line x1="1371.1" y1="40.6" x2="1361.65" y2="65.15" stroke="#EEC17C" stroke-width="4" stroke-linecap="round"/>
<line x1="1369.12" y1="45.73" x2="1363.62" y2="60.02" stroke="#F0C682" stroke-width="5" stroke-linecap="round"/>
<line x1="1370.02" y1="43.4" x2="1362.73" y2="62.35" stroke="#FCE5AE" stroke-width="1.5" stroke-linecap="round"/>
<line x1="1357.18" y1="76.28" x2="1347.32" y2="99.77" stroke="#D5A05A" stroke-width="5.4" stroke-linecap="round"/>
<line x1="1355.15" y1="81.11" x2="1349.35" y2="94.94" stroke="#DBA860" stroke-width="6.6" stroke-linecap="round"/>
<line x1="1357.18" y1="76.28" x2="1347.32" y2="99.77" stroke="#EEC17C" stroke-width="4" stroke-linecap="round"/>
<line x1="1355.15" y1="81.11" x2="1349.35" y2="94.94" stroke="#F0C682" stroke-width="5" stroke-linecap="round"/>
<line x1="1356.02" y1="79.05" x2="1348.48" y2="97" stroke="#FCE5AE" stroke-width="1.5" stroke-linecap="round"/>
<line x1="1342.59" y1="110.79" x2="1332.16" y2="134.51" stroke="#D5A05A" stroke-width="5.4" stroke-linecap="round"/>
<line x1="1340.42" y1="115.71" x2="1334.33" y2="129.59" stroke="#DBA860" stroke-width="6.6" stroke-linecap="round"/>
<line x1="1342.59" y1="110.79" x2="1332.16" y2="134.51" stroke="#EEC17C" stroke-width="4" stroke-linecap="round"/>
<line x1="1340.42" y1="115.71" x2="1334.33" y2="129.59" stroke="#F0C682" stroke-width="5" stroke-linecap="round"/>
<line x1="1341.38" y1="113.54" x2="1333.37" y2="131.76" stroke="#FCE5AE" stroke-width="1.5" stroke-linecap="round"/>
<line x1="1327.24" y1="145.45" x2="1316.51" y2="168.8" stroke="#D5A05A" stroke-width="5.4" stroke-linecap="round"/>
<line x1="1325.03" y1="150.28" x2="1318.72" y2="163.97" stroke="#DBA860" stroke-width="6.6" stroke-linecap="round"/>
<line x1="1327.24" y1="145.45" x2="1316.51" y2="168.8" stroke="#EEC17C" stroke-width="4" stroke-linecap="round"/>
<line x1="1325.03" y1="150.28" x2="1318.72" y2="163.97" stroke="#F0C682" stroke-width="5" stroke-linecap="round"/>
<line x1="1325.99" y1="148.18" x2="1317.76" y2="166.07" stroke="#FCE5AE" stroke-width="1.5" stroke-linecap="round"/>
<line x1="1311.32" y1="179.62" x2="1299.68" y2="202.88" stroke="#D5A05A" stroke-width="5.4" stroke-linecap="round"/>
<line x1="1308.9" y1="184.45" x2="1302.1" y2="198.05" stroke="#DBA860" stroke-width="6.6" stroke-linecap="round"/>
<line x1="1311.32" y1="179.62" x2="1299.68" y2="202.88" stroke="#EEC17C" stroke-width="4" stroke-linecap="round"/>
<line x1="1308.9" y1="184.45" x2="1302.1" y2="198.05" stroke="#F0C682" stroke-width="5" stroke-linecap="round"/>
<line x1="1309.98" y1="182.3" x2="1301.02" y2="200.2" stroke="#FCE5AE" stroke-width="1.5" stroke-linecap="round"/>
<line x1="1294.27" y1="213.59" x2="1282.48" y2="236.66" stroke="#D5A05A" stroke-width="5.4" stroke-linecap="round"/>
<line x1="1291.83" y1="218.38" x2="1284.92" y2="231.88" stroke="#DBA860" stroke-width="6.6" stroke-linecap="round"/>
<line x1="1294.27" y1="213.59" x2="1282.48" y2="236.66" stroke="#EEC17C" stroke-width="4" stroke-linecap="round"/>
<line x1="1291.83" y1="218.38" x2="1284.92" y2="231.88" stroke="#F0C682" stroke-width="5" stroke-linecap="round"/>
<line x1="1292.9" y1="216.26" x2="1283.85" y2="233.99" stroke="#FCE5AE" stroke-width="1.5" stroke-linecap="round"/>
<line x1="1276.97" y1="247.32" x2="1264.48" y2="271.18" stroke="#D5A05A" stroke-width="5.4" stroke-linecap="round"/>
<line x1="1274.34" y1="252.35" x2="1267.12" y2="266.15" stroke="#DBA860" stroke-width="6.6" stroke-linecap="round"/>
<line x1="1276.97" y1="247.32" x2="1264.48" y2="271.18" stroke="#EEC17C" stroke-width="4" stroke-linecap="round"/>
<line x1="1274.34" y1="252.35" x2="1267.12" y2="266.15" stroke="#F0C682" stroke-width="5" stroke-linecap="round"/>
<line x1="1275.58" y1="249.97" x2="1265.87" y2="268.53" stroke="#FCE5AE" stroke-width="1.5" stroke-linecap="round"/>
<line x1="1258.71" y1="281.7" x2="1245.99" y2="303.8" stroke="#D5A05A" stroke-width="5.4" stroke-linecap="round"/>
<line x1="1256.09" y1="286.25" x2="1248.61" y2="299.25" stroke="#DBA860" stroke-width="6.6" stroke-linecap="round"/>
<line x1="1258.71" y1="281.7" x2="1245.99" y2="303.8" stroke="#EEC17C" stroke-width="4" stroke-linecap="round"/>
<line x1="1256.09" y1="286.25" x2="1248.61" y2="299.25" stroke="#F0C682" stroke-width="5" stroke-linecap="round"/>
<line x1="1257.21" y1="284.3" x2="1247.49" y2="301.2" stroke="#FCE5AE" stroke-width="1.5" stroke-linecap="round"/>
<line x1="1239.89" y1="314.13" x2="1226.86" y2="335.62" stroke="#D5A05A" stroke-width="5.4" stroke-linecap="round"/>
<line x1="1237.22" y1="318.52" x2="1229.53" y2="331.23" stroke="#DBA860" stroke-width="6.6" stroke-linecap="round"/>
<line x1="1239.89" y1="314.13" x2="1226.86" y2="335.62" stroke="#EEC17C" stroke-width="4" stroke-linecap="round"/>
<line x1="1237.22" y1="318.52" x2="1229.53" y2="331.23" stroke="#F0C682" stroke-width="5" stroke-linecap="round"/>
<line x1="1238.33" y1="316.7" x2="1228.42" y2="333.05" stroke="#FCE5AE" stroke-width="1.5" stroke-linecap="round"/>
<line x1="1220.59" y1="345.85" x2="1206.91" y2="367.9" stroke="#D5A05A" stroke-width="5.4" stroke-linecap="round"/>
<line x1="1217.75" y1="350.43" x2="1209.75" y2="363.32" stroke="#DBA860" stroke-width="6.6" stroke-linecap="round"/>
<line x1="1220.59" y1="345.85" x2="1206.91" y2="367.9" stroke="#EEC17C" stroke-width="4" stroke-linecap="round"/>
<line x1="1217.75" y1="350.43" x2="1209.75" y2="363.32" stroke="#F0C682" stroke-width="5" stroke-linecap="round"/>
<line x1="1219.01" y1="348.4" x2="1208.49" y2="365.35" stroke="#FCE5AE" stroke-width="1.5" stroke-linecap="round"/>
<line x1="1200.48" y1="378.03" x2="1186.52" y2="399.47" stroke="#D5A05A" stroke-width="5.4" stroke-linecap="round"/>
<line x1="1197.6" y1="382.45" x2="1189.4" y2="395.05" stroke="#DBA860" stroke-width="6.6" stroke-linecap="round"/>
<line x1="1200.48" y1="378.03" x2="1186.52" y2="399.47" stroke="#EEC17C" stroke-width="4" stroke-linecap="round"/>
<line x1="1197.6" y1="382.45" x2="1189.4" y2="395.05" stroke="#F0C682" stroke-width="5" stroke-linecap="round"/>
<line x1="1198.84" y1="380.54" x2="1188.16" y2="396.96" stroke="#FCE5AE" stroke-width="1.5" stroke-linecap="round"/>
<line x1="1179.87" y1="409.46" x2="1165.13" y2="431.04" stroke="#D5A05A" stroke-width="5.4" stroke-linecap="round"/>
<line x1="1176.8" y1="413.95" x2="1168.2" y2="426.55" stroke="#DBA860" stroke-width="6.6" stroke-linecap="round"/>
<line x1="1179.87" y1="409.46" x2="1165.13" y2="431.04" stroke="#EEC17C" stroke-width="4" stroke-linecap="round"/>
<line x1="1176.8" y1="413.95" x2="1168.2" y2="426.55" stroke="#F0C682" stroke-width="5" stroke-linecap="round"/>
<line x1="1178.18" y1="411.93" x2="1166.82" y2="428.57" stroke="#FCE5AE" stroke-width="1.5" stroke-linecap="round"/>
<line x1="1158.28" y1="440.89" x2="1143.22" y2="462.11" stroke="#D5A05A" stroke-width="5.4" stroke-linecap="round"/>
<line x1="1155.15" y1="445.3" x2="1146.35" y2="457.7" stroke="#DBA860" stroke-width="6.6" stroke-linecap="round"/>
<line x1="1158.28" y1="440.89" x2="1143.22" y2="462.11" stroke="#EEC17C" stroke-width="4" stroke-linecap="round"/>
<line x1="1155.15" y1="445.3" x2="1146.35" y2="457.7" stroke="#F0C682" stroke-width="5" stroke-linecap="round"/>
<line x1="1156.54" y1="443.34" x2="1144.96" y2="459.66" stroke="#FCE5AE" stroke-width="1.5" stroke-linecap="round"/>
<line x1="1136.19" y1="471.83" x2="1120.86" y2="492.67" stroke="#D5A05A" stroke-width="5.4" stroke-linecap="round"/>
<line x1="1133.01" y1="476.15" x2="1124.04" y2="488.35" stroke="#DBA860" stroke-width="6.6" stroke-linecap="round"/>
<line x1="1136.19" y1="471.83" x2="1120.86" y2="492.67" stroke="#EEC17C" stroke-width="4" stroke-linecap="round"/>
<line x1="1133.01" y1="476.15" x2="1124.04" y2="488.35" stroke="#F0C682" stroke-width="5" stroke-linecap="round"/>
<line x1="1134.41" y1="474.25" x2="1122.64" y2="490.25" stroke="#FCE5AE" stroke-width="1.5" stroke-linecap="round"/>
<line x1="1113.62" y1="502.24" x2="1097.68" y2="522.76" stroke="#D5A05A" stroke-width="5.4" stroke-linecap="round"/>
<line x1="1110.31" y1="506.5" x2="1100.99" y2="518.5" stroke="#DBA860" stroke-width="6.6" stroke-linecap="round"/>
<line x1="1113.62" y1="502.24" x2="1097.68" y2="522.76" stroke="#EEC17C" stroke-width="4" stroke-linecap="round"/>
<line x1="1110.31" y1="506.5" x2="1100.99" y2="518.5" stroke="#F0C682" stroke-width="5" stroke-linecap="round"/>
<line x1="1111.78" y1="504.61" x2="1099.52" y2="520.39" stroke="#FCE5AE" stroke-width="1.5" stroke-linecap="round"/>
<line x1="1090.17" y1="532.12" x2="1073.63" y2="552.08" stroke="#D5A05A" stroke-width="5.4" stroke-linecap="round"/>
<line x1="1086.74" y1="536.26" x2="1077.06" y2="547.94" stroke="#DBA860" stroke-width="6.6" stroke-linecap="round"/>
<line x1="1090.17" y1="532.12" x2="1073.63" y2="552.08" stroke="#EEC17C" stroke-width="4" stroke-linecap="round"/>
<line x1="1086.74" y1="536.26" x2="1077.06" y2="547.94" stroke="#F0C682" stroke-width="5" stroke-linecap="round"/>
<line x1="1088.26" y1="534.43" x2="1075.54" y2="549.77" stroke="#FCE5AE" stroke-width="1.5" stroke-linecap="round"/>
</g>
<circle cx="489.2" cy="556.7" r="13.5" fill="none" stroke="#CB9648" stroke-width="9.8"/>
<circle cx="489.2" cy="556.7" r="13.5" fill="none" stroke="#ECBD72" stroke-width="8.4"/>
<circle cx="489.2" cy="556.7" r="14.5" fill="none" stroke="#F9DA9A" stroke-width="2" stroke-dasharray="34 60" stroke-dashoffset="-40"/>
<circle cx="1069.8" cy="556.7" r="13.5" fill="none" stroke="#CB9648" stroke-width="9.8"/>
<circle cx="1069.8" cy="556.7" r="13.5" fill="none" stroke="#ECBD72" stroke-width="8.4"/>
<circle cx="1069.8" cy="556.7" r="14.5" fill="none" stroke="#F9DA9A" stroke-width="2" stroke-dasharray="34 60" stroke-dashoffset="-40"/>
<g id="pendant">
<polygon points="486.2,574.6 497.23,592.42 520.29,621.78 543.57,650.98 568.23,679.11 593.97,706.42 620.84,732.41 648.31,758.01 676.78,782.33 705.63,806.84 734.47,830.13 779.5,861.8 824.53,830.13 853.37,806.84 882.22,782.33 910.69,758.01 938.16,732.41 965.03,706.1 990.77,678.15 1015.43,649.35 1038.71,619.46 1061.77,589.82 1073.8,576 1046,557 1034.71,566.68 1010.56,594.93 986.41,623.12 961.98,650.96 937.16,677.78 911.05,703.49 884.42,728.83 856.73,752.76 828.42,777.09 800.1,800.25 779.5,814 758.9,800.25 730.58,777.09 702.27,752.76 674.58,728.83 647.95,703.87 621.84,678.76 597.02,652.55 572.59,625.36 548.44,597.53 524.29,569.28 511.2,556.4" fill="#ECBD72" stroke="#ECBD72" stroke-width="3" stroke-linejoin="round"/>
<polyline points="486.2,573.6 497.23,591.42 520.29,620.78 543.57,649.98 568.23,678.11 593.97,705.42 620.84,731.41 648.31,757.01 676.78,781.33 705.63,805.84 734.47,829.13 779.5,860.8 824.53,829.13 853.37,805.84 882.22,781.33 910.69,757.01 938.16,731.41 965.03,705.1 990.77,677.15 1015.43,648.35 1038.71,618.46 1061.77,588.82 1073.8,575" fill="none" stroke="#F9DA9A" stroke-width="2.2" stroke-linejoin="round"/>
<polyline points="511.2,557.4 524.29,570.28 548.44,598.53 572.59,626.36 597.02,653.55 621.84,679.76 647.95,704.87 674.58,729.83 702.27,753.76 730.58,778.09 758.9,801.25 779.5,815 800.1,801.25 828.42,778.09 856.73,753.76 884.42,729.83 911.05,704.49 937.16,678.78 961.98,651.96 986.41,624.12 1010.56,595.93 1034.71,567.68 1046,558" fill="none" stroke="#CB9648" stroke-width="1.6" stroke-linejoin="round" opacity=".85"/>
<use href="#dia" transform="translate(510 581.5) rotate(0) scale(1.02)"/>
<use href="#dia" transform="translate(534.2 609.8) rotate(47) scale(1.02)"/>
<use href="#dia" transform="translate(558.5 637.8) rotate(94) scale(1.02)"/>
<use href="#dia" transform="translate(583.2 665.3) rotate(141) scale(1.02)"/>
<use href="#dia" transform="translate(608.5 692) rotate(188) scale(1.02)"/>
<use href="#dia" transform="translate(635 717.5) rotate(235) scale(1.02)"/>
<use href="#dia" transform="translate(662 742.8) rotate(282) scale(1.02)"/>
<use href="#dia" transform="translate(690 767) rotate(329) scale(1.02)"/>
<use href="#dia" transform="translate(718.5 791.5) rotate(16) scale(1.02)"/>
<use href="#dia" transform="translate(747 814.8) rotate(63) scale(1.02)"/>
<use href="#dia" transform="translate(779.5 835.5) rotate(110) scale(1.02)"/>
<use href="#dia" transform="translate(812 814.8) rotate(157) scale(1.02)"/>
<use href="#dia" transform="translate(840.5 791.5) rotate(204) scale(1.02)"/>
<use href="#dia" transform="translate(869 767) rotate(251) scale(1.02)"/>
<use href="#dia" transform="translate(897 742.8) rotate(298) scale(1.02)"/>
<use href="#dia" transform="translate(924 717.44) rotate(345) scale(1.02)"/>
<use href="#dia" transform="translate(950.5 691.34) rotate(32) scale(1.02)"/>
<use href="#dia" transform="translate(975.8 664.01) rotate(79) scale(1.02)"/>
<use href="#dia" transform="translate(1000.5 635.86) rotate(126) scale(1.02)"/>
<use href="#dia" transform="translate(1024.8 607.2) rotate(173) scale(1.02)"/>
<use href="#dia" transform="translate(1049 578.9) rotate(220) scale(1.02)"/>
<circle cx="532.45" cy="586.8" r="4.2" fill="url(#pg)" stroke="#CB9648" stroke-width="0.5"/>
<circle cx="511.33" cy="604.86" r="4.96" fill="url(#pg)" stroke="#CB9648" stroke-width="0.59"/>
<circle cx="556.63" cy="614.88" r="4.2" fill="url(#pg)" stroke="#CB9648" stroke-width="0.5"/>
<circle cx="535.65" cy="633.09" r="4.96" fill="url(#pg)" stroke="#CB9648" stroke-width="0.59"/>
<circle cx="580.98" cy="642.45" r="4.2" fill="url(#pg)" stroke="#CB9648" stroke-width="0.5"/>
<circle cx="560.31" cy="661.02" r="4.96" fill="url(#pg)" stroke="#CB9648" stroke-width="0.59"/>
<circle cx="605.73" cy="669.28" r="4.2" fill="url(#pg)" stroke="#CB9648" stroke-width="0.5"/>
<circle cx="585.57" cy="688.4" r="4.96" fill="url(#pg)" stroke="#CB9648" stroke-width="0.59"/>
<circle cx="631.19" cy="694.94" r="4.2" fill="url(#pg)" stroke="#CB9648" stroke-width="0.5"/>
<circle cx="611.93" cy="714.96" r="4.96" fill="url(#pg)" stroke="#CB9648" stroke-width="0.59"/>
<circle cx="657.81" cy="720.21" r="4.2" fill="url(#pg)" stroke="#CB9648" stroke-width="0.5"/>
<circle cx="638.81" cy="740.49" r="4.96" fill="url(#pg)" stroke="#CB9648" stroke-width="0.59"/>
<circle cx="684.9" cy="744.6" r="4.2" fill="url(#pg)" stroke="#CB9648" stroke-width="0.5"/>
<circle cx="666.74" cy="765.62" r="4.96" fill="url(#pg)" stroke="#CB9648" stroke-width="0.59"/>
<circle cx="713.13" cy="768.92" r="4.2" fill="url(#pg)" stroke="#CB9648" stroke-width="0.5"/>
<circle cx="695.01" cy="789.99" r="4.96" fill="url(#pg)" stroke="#CB9648" stroke-width="0.59"/>
<circle cx="741.37" cy="792.61" r="4.2" fill="url(#pg)" stroke="#CB9648" stroke-width="0.5"/>
<circle cx="723.78" cy="814.12" r="4.96" fill="url(#pg)" stroke="#CB9648" stroke-width="0.59"/>
<circle cx="770.56" cy="813.67" r="4.2" fill="url(#pg)" stroke="#CB9648" stroke-width="0.5"/>
<circle cx="755.64" cy="837.1" r="4.96" fill="url(#pg)" stroke="#CB9648" stroke-width="0.59"/>
<circle cx="788.14" cy="813.2" r="4.96" fill="url(#pg)" stroke="#CB9648" stroke-width="0.59"/>
<circle cx="803.06" cy="836.63" r="4.2" fill="url(#pg)" stroke="#CB9648" stroke-width="0.5"/>
<circle cx="817.28" cy="792.18" r="4.96" fill="url(#pg)" stroke="#CB9648" stroke-width="0.59"/>
<circle cx="834.87" cy="813.69" r="4.2" fill="url(#pg)" stroke="#CB9648" stroke-width="0.5"/>
<circle cx="845.51" cy="768.51" r="4.96" fill="url(#pg)" stroke="#CB9648" stroke-width="0.59"/>
<circle cx="863.63" cy="789.58" r="4.2" fill="url(#pg)" stroke="#CB9648" stroke-width="0.5"/>
<circle cx="873.74" cy="744.18" r="4.96" fill="url(#pg)" stroke="#CB9648" stroke-width="0.59"/>
<circle cx="891.9" cy="765.2" r="4.2" fill="url(#pg)" stroke="#CB9648" stroke-width="0.5"/>
<circle cx="900.8" cy="719.79" r="4.96" fill="url(#pg)" stroke="#CB9648" stroke-width="0.59"/>
<circle cx="919.82" cy="740.05" r="4.2" fill="url(#pg)" stroke="#CB9648" stroke-width="0.5"/>
<circle cx="927.31" cy="694.3" r="4.96" fill="url(#pg)" stroke="#CB9648" stroke-width="0.59"/>
<circle cx="946.8" cy="714.09" r="4.2" fill="url(#pg)" stroke="#CB9648" stroke-width="0.5"/>
<circle cx="952.75" cy="668.05" r="4.96" fill="url(#pg)" stroke="#CB9648" stroke-width="0.59"/>
<circle cx="973.14" cy="686.92" r="4.2" fill="url(#pg)" stroke="#CB9648" stroke-width="0.5"/>
<circle cx="977.5" cy="640.59" r="4.96" fill="url(#pg)" stroke="#CB9648" stroke-width="0.59"/>
<circle cx="998.38" cy="658.91" r="4.2" fill="url(#pg)" stroke="#CB9648" stroke-width="0.5"/>
<circle cx="1001.84" cy="612.37" r="4.96" fill="url(#pg)" stroke="#CB9648" stroke-width="0.59"/>
<circle cx="1023.04" cy="630.33" r="4.2" fill="url(#pg)" stroke="#CB9648" stroke-width="0.5"/>
<circle cx="1026.13" cy="583.84" r="4.96" fill="url(#pg)" stroke="#CB9648" stroke-width="0.59"/>
<circle cx="1047.25" cy="601.9" r="4.2" fill="url(#pg)" stroke="#CB9648" stroke-width="0.5"/>
<circle cx="509.34" cy="563.18" r="4.2" fill="url(#pg)" stroke="#CB9648" stroke-width="0.5"/>
<circle cx="1049.66" cy="560.58" r="4.2" fill="url(#pg)" stroke="#CB9648" stroke-width="0.5"/>
<circle cx="492" cy="578.01" r="4.2" fill="url(#pg)" stroke="#CB9648" stroke-width="0.5"/>
<circle cx="1067" cy="575.41" r="4.2" fill="url(#pg)" stroke="#CB9648" stroke-width="0.5"/>
<path d="M786 806 Q905 716 1022 586" fill="none" stroke="#4A3310" stroke-width="3" opacity=".9"/>
<path d="M752 796 L774 811" fill="none" stroke="#4A3310" stroke-width="2.2" opacity=".8"/>
<use href="#em" transform="translate(779.2 771.7) rotate(0) scale(1)"/>
<use href="#em" transform="translate(831.7 729.2) rotate(0) scale(1)"/>
<use href="#em" transform="translate(882.5 680.8) rotate(0) scale(1)"/>
<use href="#em" transform="translate(932 632.5) rotate(0) scale(1)"/>
<use href="#em" transform="translate(979.2 580.8) rotate(0) scale(1)"/>
<circle cx="950" cy="554" r="7" fill="url(#pg)" stroke="#CB9648" stroke-width="0.84"/>
<circle cx="903.3" cy="605.8" r="7" fill="url(#pg)" stroke="#CB9648" stroke-width="0.84"/>
<circle cx="855.8" cy="651.7" r="7" fill="url(#pg)" stroke="#CB9648" stroke-width="0.84"/>
<circle cx="804" cy="701" r="7" fill="url(#pg)" stroke="#CB9648" stroke-width="0.84"/>
<circle cx="754" cy="741.7" r="7" fill="url(#pg)" stroke="#CB9648" stroke-width="0.84"/>
<circle cx="1016.7" cy="574" r="8.2" fill="url(#pg)" stroke="#CB9648" stroke-width="0.98"/>
<circle cx="972.5" cy="620.8" r="8.2" fill="url(#pg)" stroke="#CB9648" stroke-width="0.98"/>
<circle cx="923.3" cy="673.3" r="8.2" fill="url(#pg)" stroke="#CB9648" stroke-width="0.98"/>
<circle cx="873.3" cy="721.7" r="8.2" fill="url(#pg)" stroke="#CB9648" stroke-width="0.98"/>
<circle cx="820" cy="768.3" r="8.2" fill="url(#pg)" stroke="#CB9648" stroke-width="0.98"/>
<circle cx="780" cy="806.7" r="8.2" fill="url(#pg)" stroke="#CB9648" stroke-width="0.98"/>
</g>
</g>
<g id="dims-earring">
<line x1="1116.7" y1="709.7" x2="1161.7" y2="709.7" stroke="#333333" stroke-width="1.3"/>
<line x1="1116.7" y1="863.3" x2="1264" y2="863.3" stroke="#333333" stroke-width="1.3"/>
<line x1="1130" y1="713" x2="1130" y2="860" stroke="#333333" stroke-width="1.5"/>
<polygon points="1130,709.7 1136.6,736.7 1123.4,736.7" fill="#333333"/>
<polygon points="1130,863.3 1123.4,836.3 1136.6,836.3" fill="#333333"/>
<line x1="1142.8" y1="730" x2="1142.8" y2="892.5" stroke="#333333" stroke-width="1.3"/>
<line x1="1386.7" y1="727.5" x2="1386.7" y2="892.5" stroke="#333333" stroke-width="1.3"/>
<line x1="1150" y1="879.2" x2="1380" y2="879.2" stroke="#333333" stroke-width="1.8"/>
<polygon points="1142.8,879.2 1169.8,872.6 1169.8,885.8" fill="#333333"/>
<polygon points="1386.7,879.2 1359.7,885.8 1359.7,872.6" fill="#333333"/>
<text x="1116.3" y="852.2" font-family="'Liberation Sans', Arial, sans-serif" font-size="37.8" fill="#333333" text-anchor="start" transform="rotate(-90 1116.3 852.2)">5.70MM</text>
<text x="1198.5" y="920.3" font-family="'Liberation Sans', Arial, sans-serif" font-size="37.8" fill="#333333" text-anchor="start">9.00MM</text>
<line x1="1435.5" y1="787.5" x2="1435.5" y2="876" stroke="#333333" stroke-width="1.3"/>
<line x1="1490.8" y1="841" x2="1490.8" y2="876" stroke="#333333" stroke-width="1.3"/>
<line x1="1395" y1="862.5" x2="1412" y2="862.5" stroke="#333333" stroke-width="1.6"/>
<line x1="1515" y1="862.5" x2="1531.8" y2="862.5" stroke="#333333" stroke-width="1.6"/>
<polygon points="1435.5,862.5 1409.5,869 1409.5,856" fill="#333333"/>
<polygon points="1490.8,862.5 1516.8,856 1516.8,869" fill="#333333"/>
<text x="1397.4" y="904.3" font-family="'Liberation Sans', Arial, sans-serif" font-size="37.8" fill="#333333" text-anchor="start">2.00MM</text>
</g>
<g id="jewel-earring" filter="url(#soft)">
<g id="earring-front">
<polygon points="1147.26,731.09 1155.75,740.26 1175.66,761.76 1194.75,783.34 1213.86,805.05 1233.08,826.67 1264.7,859.8 1296.32,826.67 1315.54,805.05 1334.65,783.34 1353.74,761.76 1373.65,740.26 1382.14,731.09 1364.6,714.85 1356.11,724.02 1336.02,745.72 1316.73,767.52 1297.64,789.21 1278.45,810.79 1264.7,814 1250.95,810.79 1231.76,789.21 1212.67,767.52 1193.38,745.72 1173.29,724.02 1164.8,714.85" fill="#ECBD72" stroke="#ECBD72" stroke-width="7" stroke-linejoin="round"/>
<polyline points="1147.26,730.09 1155.75,739.26 1175.66,760.76 1194.75,782.34 1213.86,804.05 1233.08,825.67 1264.7,858.8 1296.32,825.67 1315.54,804.05 1334.65,782.34 1353.74,760.76 1373.65,739.26 1382.14,730.09" fill="none" stroke="#F9DA9A" stroke-width="2.2" stroke-linejoin="round"/>
<polyline points="1164.8,715.85 1173.29,725.02 1193.38,746.72 1212.67,768.52 1231.76,790.21 1250.95,811.79 1264.7,815 1278.45,811.79 1297.64,790.21 1316.73,768.52 1336.02,746.72 1356.11,725.02 1364.6,715.85" fill="none" stroke="#CB9648" stroke-width="1.6" stroke-linejoin="round" opacity=".85"/>
<use href="#dia" transform="translate(1165 731.7) rotate(0) scale(0.74)"/>
<use href="#dia" transform="translate(1185 753.3) rotate(47) scale(0.74)"/>
<use href="#dia" transform="translate(1204.2 775) rotate(94) scale(0.74)"/>
<use href="#dia" transform="translate(1223.3 796.7) rotate(141) scale(0.74)"/>
<use href="#dia" transform="translate(1242.5 818.3) rotate(188) scale(0.74)"/>
<use href="#dia" transform="translate(1264.7 838.5) rotate(235) scale(0.74)"/>
<use href="#dia" transform="translate(1286.9 818.3) rotate(282) scale(0.74)"/>
<use href="#dia" transform="translate(1306.1 796.7) rotate(329) scale(0.74)"/>
<use href="#dia" transform="translate(1325.2 775) rotate(16) scale(0.74)"/>
<use href="#dia" transform="translate(1344.4 753.3) rotate(63) scale(0.74)"/>
<use href="#dia" transform="translate(1364.4 731.7) rotate(110) scale(0.74)"/>
<circle cx="1182.28" cy="735.76" r="3.4" fill="url(#pg)" stroke="#CB9648" stroke-width="0.41"/>
<circle cx="1167.43" cy="749.51" r="4.01" fill="url(#pg)" stroke="#CB9648" stroke-width="0.48"/>
<circle cx="1202.03" cy="757.58" r="3.4" fill="url(#pg)" stroke="#CB9648" stroke-width="0.41"/>
<circle cx="1186.87" cy="770.99" r="4.01" fill="url(#pg)" stroke="#CB9648" stroke-width="0.48"/>
<circle cx="1221.19" cy="779.3" r="3.4" fill="url(#pg)" stroke="#CB9648" stroke-width="0.41"/>
<circle cx="1206" cy="792.67" r="4.01" fill="url(#pg)" stroke="#CB9648" stroke-width="0.48"/>
<circle cx="1240.31" cy="800.91" r="3.4" fill="url(#pg)" stroke="#CB9648" stroke-width="0.41"/>
<circle cx="1225.19" cy="814.35" r="4.01" fill="url(#pg)" stroke="#CB9648" stroke-width="0.48"/>
<circle cx="1260.27" cy="821.07" r="3.4" fill="url(#pg)" stroke="#CB9648" stroke-width="0.41"/>
<circle cx="1246.66" cy="836.03" r="4.01" fill="url(#pg)" stroke="#CB9648" stroke-width="0.48"/>
<circle cx="1268.86" cy="820.77" r="4.01" fill="url(#pg)" stroke="#CB9648" stroke-width="0.48"/>
<circle cx="1282.47" cy="835.73" r="3.4" fill="url(#pg)" stroke="#CB9648" stroke-width="0.41"/>
<circle cx="1288.79" cy="800.65" r="4.01" fill="url(#pg)" stroke="#CB9648" stroke-width="0.48"/>
<circle cx="1303.91" cy="814.09" r="3.4" fill="url(#pg)" stroke="#CB9648" stroke-width="0.41"/>
<circle cx="1307.9" cy="779.03" r="4.01" fill="url(#pg)" stroke="#CB9648" stroke-width="0.48"/>
<circle cx="1323.09" cy="792.4" r="3.4" fill="url(#pg)" stroke="#CB9648" stroke-width="0.41"/>
<circle cx="1327.07" cy="757.31" r="4.01" fill="url(#pg)" stroke="#CB9648" stroke-width="0.48"/>
<circle cx="1342.23" cy="770.72" r="3.4" fill="url(#pg)" stroke="#CB9648" stroke-width="0.41"/>
<circle cx="1346.83" cy="735.49" r="4.01" fill="url(#pg)" stroke="#CB9648" stroke-width="0.48"/>
<circle cx="1361.68" cy="749.24" r="3.4" fill="url(#pg)" stroke="#CB9648" stroke-width="0.41"/>
<circle cx="1163.99" cy="718.39" r="3.4" fill="url(#pg)" stroke="#CB9648" stroke-width="0.41"/>
<circle cx="1365.41" cy="718.39" r="3.4" fill="url(#pg)" stroke="#CB9648" stroke-width="0.41"/>
<circle cx="1151.8" cy="729.68" r="3.4" fill="url(#pg)" stroke="#CB9648" stroke-width="0.41"/>
<circle cx="1377.6" cy="729.68" r="3.4" fill="url(#pg)" stroke="#CB9648" stroke-width="0.41"/>
<path d="M1190 733 L1260 812" fill="none" stroke="#4A3310" stroke-width="2.6" opacity=".9"/>
<path d="M1300 780 L1271 811" fill="none" stroke="#4A3310" stroke-width="2" opacity=".8"/>
<use href="#em" transform="translate(1210 725.8) rotate(0) scale(0.59)"/>
<use href="#em" transform="translate(1236.7 757.5) rotate(0) scale(0.59)"/>
<use href="#em" transform="translate(1265 788.3) rotate(0) scale(0.59)"/>
<circle cx="1227" cy="710" r="4.4" fill="url(#pg)" stroke="#CB9648" stroke-width="0.53"/>
<circle cx="1254.2" cy="741.7" r="4.4" fill="url(#pg)" stroke="#CB9648" stroke-width="0.53"/>
<circle cx="1282" cy="772" r="4.4" fill="url(#pg)" stroke="#CB9648" stroke-width="0.53"/>
<circle cx="1186.2" cy="724.7" r="5" fill="url(#pg)" stroke="#CB9648" stroke-width="0.6"/>
<circle cx="1213.3" cy="749.7" r="5" fill="url(#pg)" stroke="#CB9648" stroke-width="0.6"/>
<circle cx="1241.7" cy="781.3" r="5" fill="url(#pg)" stroke="#CB9648" stroke-width="0.6"/>
<circle cx="1265.8" cy="811.7" r="5" fill="url(#pg)" stroke="#CB9648" stroke-width="0.6"/>
</g>
<g id="earring-side">
<rect x="1490" y="789.6" width="126" height="23.6" fill="url(#postg)"/>
<rect x="1627" y="790.2" width="116.4" height="22.4" rx="2" fill="url(#thread)"/>
<rect x="1627" y="790.2" width="116.4" height="5" fill="#C9923F" opacity=".35"/>
<rect x="1627" y="806" width="116.4" height="6.6" fill="#F8D58E" opacity=".35"/>
<rect x="1455" y="684" width="36" height="157.5" rx="1.5" fill="#FDCF87"/>
<path d="M1456 684 L1490.5 686 L1490.5 707.5 L1456 707.5Z" fill="#F3C781"/>
<path d="M1457.5 690.5 L1487.5 690.5 L1489 707.5 L1457.5 707.5Z" fill="#C9A06A"/>
<rect x="1455" y="684" width="3" height="157.5" fill="#E9B666" opacity=".8"/>
<rect x="1488.6" y="706" width="2.4" height="135" fill="#E2AD5C" opacity=".9"/>
<path d="M1455 684 L1491 684.5" stroke="#F9DC9B" stroke-width="1.5"/>
<rect x="1448.6" y="690" width="6.8" height="148" fill="#F4F6FA"/>
<rect x="1447.5" y="812" width="8" height="6" rx="2" fill="#ECBD72"/>
<rect x="1447.5" y="833" width="8" height="6" rx="2" fill="#ECBD72"/>
<clipPath id="sideclip"><rect x="1430" y="678" width="18.8" height="112"/></clipPath>
<g clip-path="url(#sideclip)">
<ellipse cx="1449" cy="704" rx="11.5" ry="23.0" fill="#0E8E6C"/>
<ellipse cx="1444" cy="700" rx="3.2" ry="11.5" fill="#19B088" opacity=".8"/>
<ellipse cx="1449" cy="742" rx="11.5" ry="18.0" fill="#0E8E6C"/>
<ellipse cx="1444" cy="738" rx="3.2" ry="9.0" fill="#19B088" opacity=".8"/>
<ellipse cx="1449" cy="772" rx="11.5" ry="16.0" fill="#0E8E6C"/>
<ellipse cx="1444" cy="768" rx="3.2" ry="8.0" fill="#19B088" opacity=".8"/>
</g>
<rect x="1436.5" y="698.3" width="19" height="6.4" rx="3" fill="url(#pg)"/>
<rect x="1436.5" y="724.3" width="19" height="6.4" rx="3" fill="url(#pg)"/>
<rect x="1436.5" y="755.3" width="19" height="6.4" rx="3" fill="url(#pg)"/>
<rect x="1436.5" y="784.3" width="19" height="6.4" rx="3" fill="url(#pg)"/>
<rect x="1614.2" y="743" width="13.4" height="116.4" rx="6" fill="url(#plateg)" stroke="#D9A047" stroke-width="1"/>
<ellipse cx="1653.3" cy="775.2" rx="22.8" ry="23.2" fill="none" stroke="#CB9648" stroke-width="6.6"/>
<ellipse cx="1653.3" cy="775.2" rx="22.8" ry="23.2" fill="none" stroke="#EDBA63" stroke-width="5.2"/>
<ellipse cx="1653.3" cy="775.2" rx="23.6" ry="24" fill="none" stroke="#F9D894" stroke-width="1.6" stroke-dasharray="50 100" stroke-dashoffset="-70"/>
<ellipse cx="1653.3" cy="826.6" rx="22.8" ry="23.2" fill="none" stroke="#CB9648" stroke-width="6.6"/>
<ellipse cx="1653.3" cy="826.6" rx="22.8" ry="23.2" fill="none" stroke="#EDBA63" stroke-width="5.2"/>
<ellipse cx="1653.3" cy="826.6" rx="23.6" ry="24" fill="none" stroke="#F9D894" stroke-width="1.6" stroke-dasharray="50 100" stroke-dashoffset="-70"/>
</g>
</g>
</svg>
</body>
</html>
